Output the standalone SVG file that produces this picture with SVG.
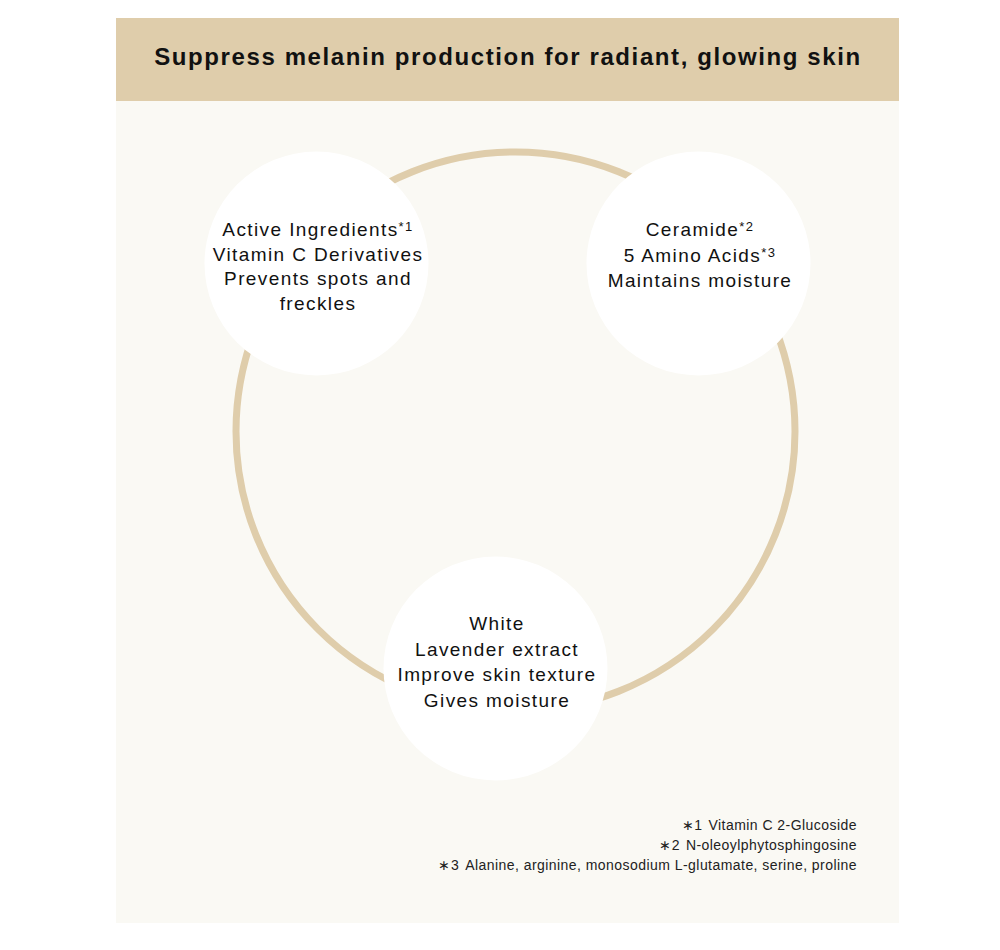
<svg xmlns="http://www.w3.org/2000/svg" width="1000" height="950" viewBox="0 0 1000 950">
  <style>
    .body { font-family: "Liberation Sans", Arial, sans-serif; font-size: 19px; fill: #111; letter-spacing: 1.4px; text-anchor: middle; }
    .sup { font-size: 13px; }
    .title { font-family: "Liberation Sans", Arial, sans-serif; font-size: 24px; font-weight: bold; fill: #111; letter-spacing: 1.6px; text-anchor: middle; }
    .note { font-family: "Liberation Sans", Arial, sans-serif; font-size: 14px; fill: #222; letter-spacing: 0.45px; text-anchor: end; }
    .bubble { fill: #ffffff; }
  </style>
  <rect x="0" y="0" width="1000" height="950" fill="#ffffff"/>
  <rect x="116" y="18" width="783" height="905" fill="#faf9f4"/>
  <rect x="116" y="18" width="783" height="83" fill="#dfcdab"/>
  <text class="title" x="508" y="65">Suppress melanin production for radiant, glowing skin</text>

  <g id="connectors">
    <circle cx="515.5" cy="431.5" r="279.5" fill="none" stroke="#dfcdab" stroke-width="7"/>
  </g>

  <g id="node-active">
    <circle class="bubble" cx="316.5" cy="263.5" r="112"/>
    <text class="body" x="318" y="236">Active Ingredients<tspan class="sup" dy="-5">*1</tspan></text>
    <text class="body" x="318" y="261">Vitamin C Derivatives</text>
    <text class="body" x="318" y="285">Prevents spots and</text>
    <text class="body" x="318" y="310">freckles</text>
  </g>

  <g id="node-ceramide">
    <circle class="bubble" cx="698.5" cy="263.5" r="112"/>
    <text class="body" x="700" y="236">Ceramide<tspan class="sup" dy="-5">*2</tspan></text>
    <text class="body" x="700" y="262">5 Amino Acids<tspan class="sup" dy="-5">*3</tspan></text>
    <text class="body" x="700" y="287">Maintains moisture</text>
  </g>

  <g id="node-lavender">
    <circle class="bubble" cx="495.5" cy="668.5" r="112"/>
    <text class="body" x="497" y="630">White</text>
    <text class="body" x="497" y="656">Lavender extract</text>
    <text class="body" x="497" y="681">Improve skin texture</text>
    <text class="body" x="497" y="707">Gives moisture</text>
  </g>

  <g id="footnotes">
    <text class="note" x="857" y="830">∗1<tspan dx="6">Vitamin C 2-Glucoside</tspan></text>
    <text class="note" x="857" y="850">∗2<tspan dx="6">N-oleoylphytosphingosine</tspan></text>
    <text class="note" x="857" y="870">∗3<tspan dx="6">Alanine, arginine, monosodium L-glutamate, serine, proline</tspan></text>
  </g>
</svg>
